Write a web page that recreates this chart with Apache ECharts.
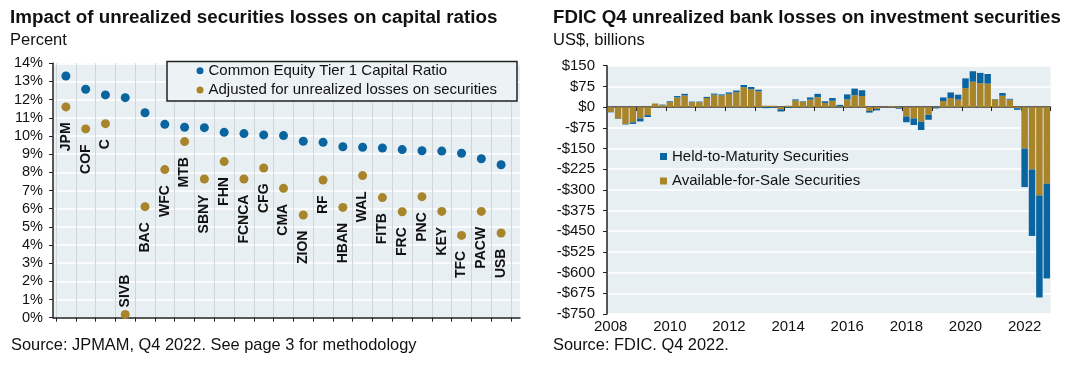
<!DOCTYPE html>
<html><head><meta charset="utf-8">
<script src="https://cdn.jsdelivr.net/npm/echarts@6/dist/echarts.min.js"></script>
<style>html,body{margin:0;padding:0;background:#fff}#c{width:1069px;height:366px}</style>
</head><body><div id="c"></div>
<script>
// ---- Left chart data ----
const banks = ['JPM','COF','C','SIVB','BAC','WFC','MTB','SBNY','FHN','FCNCA','CFG','CMA','ZION','RF','HBAN','WAL','FITB','FRC','PNC','KEY','TFC','PACW','USB'];
const cet1 = [13.3,12.57,12.26,12.11,11.28,10.64,10.48,10.46,10.2,10.13,10.06,10.02,9.71,9.65,9.41,9.38,9.34,9.25,9.19,9.17,9.05,8.75,8.42];
const adjusted = [11.6,10.39,10.68,0.18,6.11,8.15,9.69,7.63,8.59,7.63,8.24,7.12,5.65,7.58,6.07,7.82,6.61,5.83,6.66,5.85,4.53,5.85,4.66];

// ---- Right chart data ----
const quarters = [
 '2008Q1','2008Q2','2008Q3','2008Q4','2009Q1','2009Q2','2009Q3','2009Q4',
 '2010Q1','2010Q2','2010Q3','2010Q4','2011Q1','2011Q2','2011Q3','2011Q4',
 '2012Q1','2012Q2','2012Q3','2012Q4','2013Q1','2013Q2','2013Q3','2013Q4',
 '2014Q1','2014Q2','2014Q3','2014Q4','2015Q1','2015Q2','2015Q3','2015Q4',
 '2016Q1','2016Q2','2016Q3','2016Q4','2017Q1','2017Q2','2017Q3','2017Q4',
 '2018Q1','2018Q2','2018Q3','2018Q4','2019Q1','2019Q2','2019Q3','2019Q4',
 '2020Q1','2020Q2','2020Q3','2020Q4','2021Q1','2021Q2','2021Q3','2021Q4',
 '2022Q1','2022Q2','2022Q3','2022Q4'];
const afs = [-18,-42,-61,-55,-41,-29,13,7,
 18,35,42,18,18,33,45,42,
 48,54,72,65,57,5,5,-8,
 5,24,19,27,36,15,23,3,
 28,43,40,-14,-7,1,3,-3,
 -34,-41,-53,-28,-2,22,33,27,
 69,92,87,85,28,41,27,-4,
 -150,-226,-320,-278];
const htm = [-1,-1,-2,-6,-11,-7,0,2,
 3,5,6,2,2,4,4,4,
 5,6,8,8,6,-4,-3,-8,
 -3,4,2,8,12,6,10,5,
 18,24,21,-6,-5,0,0,-3,
 -21,-24,-30,-18,-3,13,20,18,
 35,38,37,35,1,10,3,-6,
 -140,-241,-370,-343];
const yearLabels = ['2008','2010','2012','2014','2016','2018','2020','2022'];

const FONT = "'Liberation Sans', Arial, sans-serif";
const BLUE = '#0a64a0', GOLD = '#a8852a', BG = '#e8eff2', INK = '#111';

const chart = echarts.init(document.getElementById('c'), null, {renderer: 'canvas'});

const T = (text, left, top, size, bold) => ({
  text, left, top, padding: 0,
  textStyle: {fontFamily: FONT, fontSize: size, fontWeight: bold ? 'bold' : 'normal', color: INK}
});

const option = {
  animation: false,
  textStyle: {fontFamily: FONT},
  title: [
    T('Impact of unrealized securities losses on capital ratios', 10, 8, 18.8, true),
    T('Percent', 10, 31.5, 16.5, false),
    T('FDIC Q4 unrealized bank losses on investment securities', 553, 8, 18.7, true),
    T('US$, billions', 553, 31.5, 16.5, false),
    T('Source: JPMAM, Q4 2022. See page 3 for methodology', 11, 337.5, 16.4, false),
    T('Source: FDIC. Q4 2022.', 553, 337.5, 16.4, false)
  ],
  graphic: {elements: [{
    type: 'rect', z: 3,
    shape: {x: 167, y: 61.5, width: 350, height: 39.5},
    style: {fill: '#edf3f5', stroke: '#222', lineWidth: 1.5}
  }]},
  legend: [
    {
      data: ['Common Equity Tier 1 Capital Ratio', 'Adjusted for unrealized losses on securities'],
      orient: 'vertical', left: 196.5, top: 62.7, padding: 0, z: 5,
      icon: 'circle', itemWidth: 7, itemHeight: 7, itemGap: 3.3, selectedMode: false,
      itemStyle: {opacity: 1},
      textStyle: {fontFamily: FONT, fontSize: 15, lineHeight: 16, color: INK}
    },
    {
      data: ['Held-to-Maturity Securities', 'Available-for-Sale Securities'],
      orient: 'vertical', left: 660, top: 148.5, padding: 0,
      icon: 'rect', itemWidth: 7, itemHeight: 7, itemGap: 8.5, selectedMode: false,
      textStyle: {fontFamily: FONT, fontSize: 15, lineHeight: 16, color: INK}
    }
  ],
  grid: [
    {left: 53, top: 63.3, width: 467, height: 254.4, show: true, backgroundColor: BG, borderWidth: 0},
    {left: 56, top: 63.3, width: 455, height: 254.4},
    {left: 607, top: 65.7, width: 443.5, height: 248.3, show: true, backgroundColor: BG, borderWidth: 0}
  ],
  xAxis: [
    {gridIndex: 0, type: 'value', min: 0, max: 1,
     axisLine: {show: true, onZero: false, lineStyle: {color: '#222', width: 1.5}},
     axisTick: {show: false}, axisLabel: {show: false}, splitLine: {show: false}},
    {gridIndex: 1, type: 'category', data: banks, boundaryGap: true,
     axisLine: {show: false, onZero: false},
     axisTick: {show: true, length: 4, interval: 0, lineStyle: {color: '#222', width: 1}},
     axisLabel: {show: false},
     splitLine: {show: true, interval: 0, lineStyle: {color: '#cfd5d8', width: 1}}},
    {gridIndex: 2, type: 'category', data: quarters, boundaryGap: true,
     axisLine: {show: true, onZero: true, lineStyle: {color: '#333', width: 1.5}},
     axisTick: {show: true, length: 4, interval: 3, lineStyle: {color: '#222', width: 1}},
     axisLabel: {show: false}, splitLine: {show: false}},
    {gridIndex: 2, type: 'category', data: quarters, boundaryGap: true, position: 'bottom',
     axisLine: {show: false, onZero: false}, axisTick: {show: false},
     axisLabel: {show: true, interval: 7, margin: 5, fontFamily: FONT, fontSize: 15, color: INK,
       formatter: (v, i) => yearLabels[Math.round(i / 8)]},
     splitLine: {show: false}}
  ],
  yAxis: [
    {gridIndex: 0, type: 'value', min: 0, max: 14, interval: 1,
     axisLine: {show: true, lineStyle: {color: '#222', width: 1.5}},
     axisTick: {show: true, length: 4, lineStyle: {color: '#222'}},
     axisLabel: {formatter: '{value}%', margin: 10, fontFamily: FONT, fontSize: 14.5, color: INK},
     splitLine: {show: true, lineStyle: {color: '#ffffff', width: 1.5}}},
    {gridIndex: 1, type: 'value', min: 0, max: 14, show: false},
    {gridIndex: 2, type: 'value', min: -750, max: 150, interval: 75,
     axisLine: {show: true, lineStyle: {color: '#222', width: 1.5}},
     axisTick: {show: true, length: 4, lineStyle: {color: '#222'}},
     axisLabel: {margin: 12, fontFamily: FONT, fontSize: 15, color: INK,
       formatter: v => (v < 0 ? '-' : '') + '$' + Math.abs(v)},
     splitLine: {show: true, lineStyle: {color: '#ffffff', width: 1.5}}}
  ],
  series: [
    {name: 'Common Equity Tier 1 Capital Ratio', type: 'scatter', xAxisIndex: 1, yAxisIndex: 1,
     data: cet1, symbolSize: 9, itemStyle: {color: BLUE, opacity: 1}, z: 3},
    {name: 'Adjusted for unrealized losses on securities', type: 'scatter', xAxisIndex: 1, yAxisIndex: 1,
     symbolSize: 9, itemStyle: {color: GOLD, opacity: 1}, z: 3,
     data: adjusted.map((v, i) => i === 3
       ? {value: v, label: {position: 'top', align: 'left', distance: 2.5}}
       : v),
     label: {show: true, position: 'bottom', distance: 11, rotate: 90, align: 'right', verticalAlign: 'middle',
       fontFamily: FONT, fontSize: 14, fontWeight: 'bold', color: INK,
       formatter: p => banks[p.dataIndex]}},
    {name: 'Available-for-Sale Securities', type: 'bar', xAxisIndex: 2, yAxisIndex: 2, stack: 'q',
     data: afs, barCategoryGap: '12%', itemStyle: {color: GOLD}},
    {name: 'Held-to-Maturity Securities', type: 'bar', xAxisIndex: 2, yAxisIndex: 2, stack: 'q',
     data: htm, barCategoryGap: '12%', itemStyle: {color: BLUE}}
  ]
};
chart.setOption(option);
</script></body></html>
